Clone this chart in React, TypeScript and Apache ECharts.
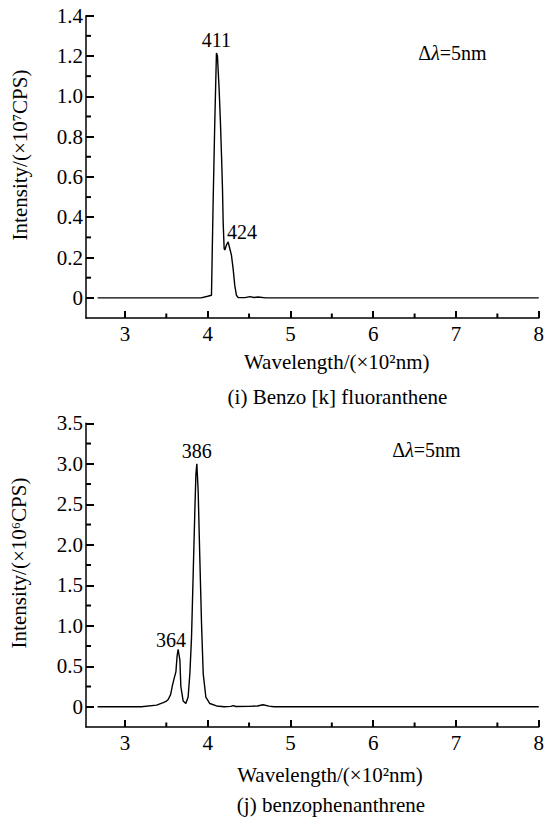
import React, { useEffect, useRef } from "react";
import * as echarts from "echarts";

// (i) Benzo [k] fluoranthene  — wavelength (×10² nm), intensity (×10⁷ CPS)
const wavelengthI = [2.67, 3.5, 3.92, 4.0, 4.046, 4.066, 4.086, 4.106, 4.118, 4.138, 4.154, 4.167, 4.179, 4.187, 4.199, 4.207, 4.227, 4.247, 4.267, 4.287, 4.307, 4.327, 4.347, 4.368, 4.45, 4.51, 4.56, 4.61, 4.7, 5.5, 6.5, 8.0];
const intensityI = [0, 0, 0, 0.008, 0.013, 0.477, 0.874, 1.215, 1.2, 1.04, 0.874, 0.709, 0.543, 0.377, 0.245, 0.237, 0.262, 0.278, 0.245, 0.212, 0.146, 0.063, 0.013, 0.002, 0.001, 0.006, 0.002, 0.004, 0, 0, 0, 0];

// (j) benzophenanthrene — wavelength (×10² nm), intensity (×10⁶ CPS)
const wavelengthJ = [2.67, 3.2, 3.383, 3.463, 3.503, 3.523, 3.552, 3.576, 3.595, 3.616, 3.631, 3.643, 3.664, 3.676, 3.704, 3.736, 3.764, 3.785, 3.805, 3.825, 3.846, 3.858, 3.869, 3.885, 3.905, 3.926, 3.946, 3.978, 4.026, 4.107, 4.2, 4.28, 4.307, 4.34, 4.5, 4.6, 4.669, 4.74, 4.8, 5.5, 6.5, 8.0];
const intensityJ = [0, 0, 0.02, 0.05, 0.07, 0.09, 0.15, 0.27, 0.35, 0.43, 0.63, 0.71, 0.58, 0.25, 0.07, 0.04, 0.12, 0.41, 0.86, 1.64, 2.46, 2.87, 3.0, 2.67, 1.84, 1.02, 0.41, 0.12, 0.04, 0.01, 0, 0.005, 0.015, 0.003, 0.005, 0.01, 0.025, 0.008, 0, 0, 0, 0];

// peak annotations [wavelength, intensity, label]
const peaksI: [number, number, string][] = [[4.106, 1.215, "411"], [4.247, 0.278, "424"]];
const peaksJ: [number, number, string][] = [[3.869, 3.0, "386"], [3.643, 0.71, "364"]];

// axis ranges and ticks
const xMin = 2.53;
const xMax = 8;
const xMajor = [3, 4, 5, 6, 7, 8];
const xMinor = [3.5, 4.5, 5.5, 6.5, 7.5];
const yRangeI = [-0.1, 1.4];
const yMajorI = [0, 0.2, 0.4, 0.6, 0.8, 1.0, 1.2, 1.4];
const yMinorI = [0.1, 0.3, 0.5, 0.7, 0.9, 1.1, 1.3];
const yRangeJ = [-0.25, 3.5];
const yMajorJ = [0, 0.5, 1.0, 1.5, 2.0, 2.5, 3.0, 3.5];
const yMinorJ = [0.25, 0.75, 1.25, 1.75, 2.25, 2.75, 3.25];

const FONT = "Liberation Serif";

const peakOffsetsI: [number, number][] = [[0, -13], [14, -10]];
const peakOffsetsJ: [number, number][] = [[0, -13], [-7, -9]];

function fmtY(v: number) {
  return v === 0 ? "0" : v.toFixed(1);
}

function xAxis(grid: number) {
  return {
    type: "value",
    gridIndex: grid,
    position: "bottom",
    min: xMin,
    max: xMax,
    splitLine: { show: false },
    axisLine: { show: true, onZero: false, lineStyle: { color: "#000", width: 1.5 } },
    axisTick: { show: true, inside: true, length: 7, customValues: xMajor, lineStyle: { color: "#000", width: 2 } },
    axisLabel: { show: true, customValues: xMajor, margin: 5, fontSize: 21, fontFamily: FONT, color: "#000" },
  };
}

function yAxis(grid: number, range: number[], major: number[]) {
  return {
    type: "value",
    gridIndex: grid,
    position: "left",
    min: range[0],
    max: range[1],
    splitLine: { show: false },
    axisLine: { show: true, onZero: false, lineStyle: { color: "#000", width: 1.5 } },
    axisTick: { show: true, inside: true, length: 8, customValues: major, lineStyle: { color: "#000", width: 2 } },
    axisLabel: { show: true, customValues: major, formatter: fmtY, margin: 3, fontSize: 21, fontFamily: FONT, color: "#000" },
  };
}

// minor ticks on the wavelength axis (positions from the axis scale)
function minorXTicks(axisIndex: number) {
  return {
    type: "custom",
    xAxisIndex: axisIndex,
    yAxisIndex: axisIndex,
    clip: false,
    silent: true,
    data: xMinor.map((v) => [v, 0]),
    renderItem: (params: any, api: any) => {
      const cs = params.coordSys;
      const px = api.coord([api.value(0), api.value(1)])[0];
      const base = cs.y + cs.height;
      return {
        type: "line",
        shape: { x1: px, y1: base, x2: px, y2: base - 4.5 },
        style: { stroke: "#000", lineWidth: 2 },
      };
    },
  };
}

// minor ticks on the intensity axis (positions from the axis scale)
function minorYTicks(axisIndex: number, minor: number[]) {
  return {
    type: "custom",
    xAxisIndex: axisIndex,
    yAxisIndex: axisIndex,
    clip: false,
    silent: true,
    data: minor.map((v) => [xMax, v]),
    renderItem: (params: any, api: any) => {
      const cs = params.coordSys;
      const py = api.coord([api.value(0), api.value(1)])[1];
      const left = cs.x;
      return {
        type: "line",
        shape: { x1: left, y1: py, x2: left + 5, y2: py },
        style: { stroke: "#000", lineWidth: 2 },
      };
    },
  };
}

function peakMarks(peaks: [number, number, string][], offsets: [number, number][]) {
  return {
    symbol: "circle",
    symbolSize: 1,
    itemStyle: { color: "rgba(0,0,0,0)" },
    data: peaks.map((p, i) => ({
      coord: [p[0], p[1]],
      value: p[2],
      label: {
        show: true,
        position: "inside",
        offset: offsets[i],
        formatter: p[2],
        fontSize: 20,
        fontFamily: FONT,
        color: "#000",
      },
    })),
  };
}

function txt(x: number, y: number, text: string, size = 21, rotation = 0) {
  return {
    type: "text",
    x,
    y,
    rotation,
    style: {
      text,
      fontSize: size,
      fontFamily: FONT,
      fill: "#000",
      align: "center",
      verticalAlign: "middle",
      textAlign: "center",
      textVerticalAlign: "middle",
    },
  };
}

function delta(x: number, y: number) {
  return {
    type: "text",
    x,
    y,
    style: {
      text: "{a|Δ}{b|λ}{a|=5nm}",
      align: "center",
      verticalAlign: "middle",
      textAlign: "center",
      textVerticalAlign: "middle",
      fill: "#000",
      rich: {
        a: { fontSize: 20, fontFamily: FONT, color: "#000" },
        b: { fontSize: 20, fontFamily: FONT, fontStyle: "italic", color: "#000" },
      },
    },
  };
}

export default function App() {
  const ref = useRef<HTMLDivElement>(null);
  useEffect(() => {
    if (!ref.current) return;
    const chart = echarts.init(ref.current, undefined, { renderer: "svg" });
    const option = {
      animation: false,
      backgroundColor: "#fff",
      grid: [
        { left: 86, top: 15.7, width: 453.5, height: 302.3, containLabel: false },
        { left: 86, top: 423.3, width: 453.5, height: 303.7, containLabel: false },
      ],
      xAxis: [xAxis(0), xAxis(1)],
      yAxis: [yAxis(0, yRangeI, yMajorI), yAxis(1, yRangeJ, yMajorJ)],
      series: [
        {
          type: "line",
          xAxisIndex: 0,
          yAxisIndex: 0,
          data: wavelengthI.map((w, i) => [w, intensityI[i]]),
          showSymbol: false,
          lineStyle: { color: "#000", width: 1.4 },
          markPoint: peakMarks(peaksI, peakOffsetsI),
        },
        {
          type: "line",
          xAxisIndex: 1,
          yAxisIndex: 1,
          data: wavelengthJ.map((w, i) => [w, intensityJ[i]]),
          showSymbol: false,
          lineStyle: { color: "#000", width: 1.4 },
          markPoint: peakMarks(peaksJ, peakOffsetsJ),
        },
        minorXTicks(0),
        minorYTicks(0, yMinorI),
        minorXTicks(1),
        minorYTicks(1, yMinorJ),
      ],
      graphic: [
        txt(20, 155, "Intensity/(×10⁷CPS)", 21, Math.PI / 2),
        txt(336.7, 361.7, "Wavelength/(×10²nm)"),
        txt(337.5, 396.7, "(i) Benzo [k] fluoranthene"),
        delta(452.5, 53.3),
        txt(19, 563, "Intensity/(×10⁶CPS)", 21, Math.PI / 2),
        txt(330, 775, "Wavelength/(×10²nm)"),
        txt(331, 805, "(j) benzophenanthrene"),
        delta(426.5, 450),
      ],
    };
    chart.setOption(option as any);
    return () => chart.dispose();
  }, []);
  return (
    <div
      ref={ref}
      style={{ position: "absolute", left: 0, top: 0, width: 547, height: 819, background: "#fff" }}
    />
  );
}
